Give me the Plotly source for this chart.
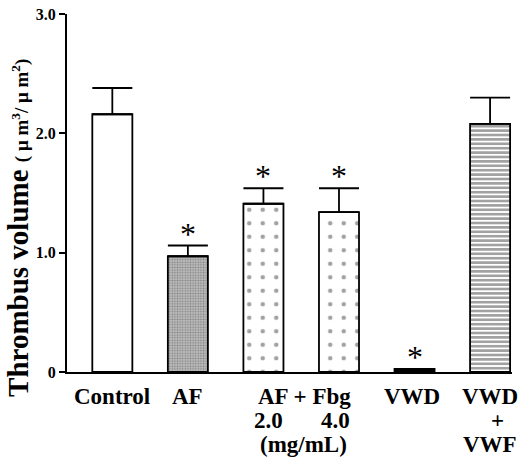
import plotly.graph_objects as go

groups = ["Control", "AF", "AF 2.0", "Fbg 4.0", "VWD", "VWD+VWF"]
means = [2.16, 0.97, 1.41, 1.34, 0.025, 2.08]
sem = [0.22, 0.09, 0.13, 0.20, 0.0, 0.22]
significant = [False, True, True, True, True, False]
y_ticks = [0, 1, 2, 3]
y_tick_text = ["0", "1.0", "2.0", "3.0"]

SERIF = "Liberation Serif"

# per-bar fill styles (white, grey stipple, sparse dots x2, solid, hatched)
shapes = ["", ".", ".", ".", "", "-"]
bg = ["white", "#bdbdbd", "white", "white", "black", "white"]
fg = ["black", "#5a5a5a", "black", "black", "black", "black"]
psize = [8, 2.6, 13.5, 13.5, 8, 4.4]
solid = [0.3, 0.35, 0.09, 0.09, 0.3, 0.6]

fig = go.Figure()
fig.add_trace(
    go.Bar(
        x=groups,
        y=means,
        width=0.53,
        marker=dict(
            color=bg,
            line=dict(color="black", width=1.8),
            pattern=dict(shape=shapes, bgcolor=bg, fgcolor=fg, size=psize, solidity=solid),
        ),
        error_y=dict(
            type="data",
            symmetric=False,
            array=sem,
            arrayminus=[0] * len(sem),
            color="black",
            thickness=1.8,
            width=20,
        ),
        showlegend=False,
    )
)

annotations = []
for g, m, s, sig in zip(groups, means, sem, significant):
    if sig:
        annotations.append(
            dict(x=g, y=m + s, xref="x", yref="y", text="*", showarrow=False,
                 yanchor="middle", yshift=12,
                 font=dict(family=SERIF, size=32, color="black"))
        )

# category labels under the axis: (text, offset from bar, bar index, row)
lab_font = dict(family=SERIF, size=23, color="black")
x_labels = [
    ("Control", 0.0, 0, 0),
    ("AF", 0.0, 1, 0),
    ("AF + Fbg", 0.55, 2, 0),
    ("2.0", 0.07, 2, 1),
    ("4.0", -0.05, 3, 1),
    ("(mg/mL)", 0.53, 2, 2),
    ("VWD", -0.04, 4, 0),
    ("VWD", 0.0, 5, 0),
    ("+", 0.1, 5, 1),
    ("VWF", 0.0, 5, 2),
]
for txt, dx, idx, row in x_labels:
    annotations.append(
        dict(x=idx + dx, y=0, xref="x", yref="paper", text=f"<b>{txt}</b>",
             showarrow=False, xanchor="center", yanchor="top",
             yshift=-10 - 24 * row, font=lab_font, align="center")
    )

annotations.append(
    dict(x=-0.11, y=-0.075, xref="paper", yref="paper", textangle=-90,
         text="<b>Thrombus volume</b> <span style='font-size:19px'><b>( μ m<sup>3</sup>/ μ m<sup>2</sup>)</b></span>",
         showarrow=False, xanchor="center", yanchor="bottom",
         font=dict(family=SERIF, size=29, color="black"))
)

fig.update_layout(
    width=520,
    height=461,
    margin=dict(l=67, r=8, t=6, b=89),
    paper_bgcolor="white",
    plot_bgcolor="white",
    bargap=0.3,
    annotations=annotations,
    xaxis=dict(
        range=[-0.6, 5.29],
        showticklabels=False,
        ticks="",
        showline=True,
        linecolor="black",
        linewidth=2,
        showgrid=False,
        zeroline=False,
    ),
    yaxis=dict(
        range=[0, 3.0],
        tickvals=y_ticks,
        ticktext=[f"<b>{t}</b>" for t in y_tick_text],
        tickfont=dict(family=SERIF, size=16, color="black"),
        ticklabeloverflow="allow",
        ticks="outside",
        ticklen=6,
        tickwidth=2,
        tickcolor="black",
        showline=True,
        linecolor="black",
        linewidth=2,
        showgrid=False,
        zeroline=False,
    ),
)

# drop the browser's default body margin so the figure sits at the window corner
fig.write_html(
    "out.html",
    config={"displayModeBar": False},
    post_script="document.body.style.margin = '0';",
)
